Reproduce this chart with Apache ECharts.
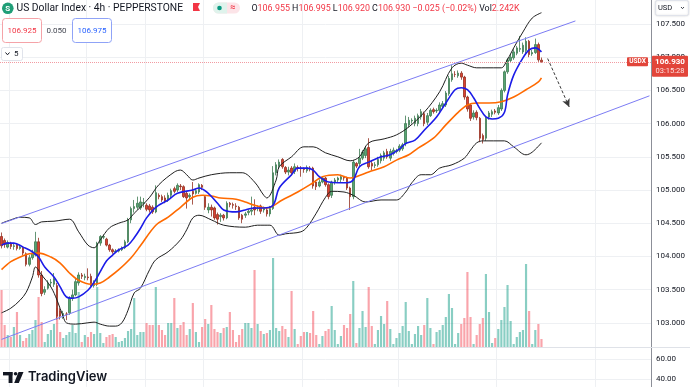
<!DOCTYPE html>
<html><head><meta charset="utf-8">
<script src="https://cdn.jsdelivr.net/npm/echarts@6/dist/echarts.min.js"></script>
<style>html,body{margin:0;padding:0;background:#fff;}#c{width:690px;height:387px;}</style>
</head><body><div id="c"></div>
<script>
// ---- data (4h candles, US Dollar Index) ----
const opens=[104.30,104.24,104.14,104.20,104.15,104.17,104.12,104.13,104.04,103.88,
103.98,104.02,104.22,103.72,103.46,103.52,103.60,103.58,103.56,103.18,
103.10,103.13,103.15,103.37,103.42,103.60,103.72,103.68,103.69,103.70,
103.56,103.58,104.20,104.29,104.26,104.17,104.10,104.07,104.08,104.10,
104.13,104.22,104.55,104.72,104.74,104.73,104.80,104.77,104.76,104.74,
104.67,104.92,104.90,104.88,104.85,104.92,105.02,105.00,105.06,105.05,
104.95,104.90,104.98,104.95,104.97,105.07,104.90,104.70,104.74,104.73,
104.63,104.60,104.62,104.58,104.80,104.78,104.76,104.74,104.62,104.62,
104.66,104.68,104.74,104.72,104.76,104.70,104.70,104.64,104.72,105.26,
105.36,105.46,105.34,105.27,105.33,105.28,105.34,105.33,105.32,105.29,
105.33,105.33,105.12,105.06,105.12,105.18,105.08,104.92,105.12,105.15,
105.16,105.19,105.18,105.03,104.90,105.40,105.40,105.48,105.52,105.64,
105.40,105.37,105.38,105.44,105.48,105.58,105.48,105.55,105.58,105.60,
105.62,105.70,105.98,106.04,106.00,106.00,106.10,106.15,106.02,106.12,
106.21,106.19,106.20,106.26,106.28,106.45,106.66,106.74,106.72,106.76,
106.70,106.40,106.28,106.10,106.17,106.08,105.82,105.78,106.10,106.14,
106.19,106.16,106.22,106.50,106.78,106.95,106.99,107.06,107.12,107.08,
107.10,107.24,107.05,107.07,107.19,106.955];
const highs=[104.36,104.27,104.24,104.22,104.19,104.20,104.17,104.15,104.06,104.02,
104.10,104.37,104.28,103.78,103.55,103.64,103.66,103.75,103.60,103.22,
103.18,103.16,103.40,103.50,103.66,103.76,103.75,103.74,103.82,103.74,
103.64,104.22,104.32,104.33,104.28,104.19,104.12,104.11,104.12,104.15,
104.25,104.58,104.75,104.85,104.90,104.90,104.88,104.80,104.79,104.77,
105.07,104.95,104.93,104.92,104.96,105.02,105.05,105.10,105.09,105.07,
104.97,104.95,105.12,105.02,105.10,105.09,104.92,104.80,104.78,104.75,
104.66,104.65,104.64,104.83,104.82,104.81,104.80,104.76,104.64,104.67,
104.71,104.90,104.86,104.77,104.78,104.75,104.73,104.76,105.36,105.42,
105.46,105.48,105.36,105.35,105.36,105.40,105.37,105.36,105.34,105.37,
105.36,105.35,105.15,105.16,105.21,105.20,105.10,105.14,105.18,105.20,
105.23,105.21,105.20,105.05,105.45,105.42,105.62,105.60,105.66,105.78,
105.44,105.42,105.50,105.55,105.59,105.62,105.62,105.64,105.62,105.69,
105.71,106.12,106.10,106.08,106.12,106.15,106.22,106.18,106.16,106.23,
106.24,106.23,106.32,106.34,106.49,106.72,106.88,106.79,106.80,106.79,
106.72,106.42,106.30,106.20,106.20,106.10,105.85,106.10,106.19,106.21,
106.22,106.28,106.53,106.80,106.99,107.05,107.12,107.17,107.32,107.22,
107.30,107.26,107.11,107.28,107.22,106.995];
const lows=[104.12,104.13,104.12,104.11,104.10,104.09,104.10,104.02,103.85,103.85,
103.95,104.00,103.68,103.40,103.42,103.50,103.55,103.54,103.05,103.05,
103.06,103.04,103.12,103.33,103.40,103.56,103.66,103.64,103.64,103.55,
103.53,103.55,104.16,104.26,104.15,104.07,104.04,104.05,104.06,104.08,
104.11,104.20,104.50,104.66,104.70,104.70,104.74,104.68,104.66,104.64,
104.65,104.86,104.82,104.80,104.82,104.88,104.95,104.97,105.00,104.88,
104.72,104.86,104.78,104.93,104.94,105.00,104.70,104.65,104.60,104.55,
104.48,104.52,104.54,104.56,104.74,104.72,104.70,104.55,104.50,104.58,
104.62,104.62,104.62,104.68,104.64,104.66,104.60,104.60,104.70,105.22,
105.32,105.32,105.24,105.22,105.22,105.24,105.28,105.20,105.26,105.26,
105.28,105.02,105.00,105.04,105.10,105.05,104.86,104.88,105.08,105.12,
105.12,105.14,105.00,104.70,104.86,105.33,105.35,105.45,105.48,105.32,
105.30,105.33,105.35,105.40,105.44,105.47,105.44,105.52,105.55,105.57,
105.59,105.66,105.94,106.00,105.96,105.96,106.06,105.96,105.98,106.10,
106.15,106.16,106.17,106.22,106.25,106.42,106.63,106.70,106.69,106.66,
106.36,106.18,106.04,106.06,106.05,105.72,105.70,105.74,106.06,106.10,
106.14,106.13,106.19,106.47,106.75,106.92,106.96,107.03,107.08,107.05,
107.06,107.00,107.02,107.05,106.93,106.92];
const closes=[104.16,104.18,104.21,104.15,104.16,104.12,104.14,104.05,103.88,103.98,
104.05,104.22,103.72,103.44,103.50,103.60,103.61,103.66,103.10,103.10,
103.14,103.13,103.37,103.42,103.62,103.72,103.70,103.70,103.68,103.57,
103.60,104.20,104.30,104.30,104.17,104.10,104.07,104.08,104.10,104.13,
104.22,104.55,104.72,104.75,104.80,104.82,104.81,104.71,104.70,104.67,
104.96,104.90,104.85,104.83,104.92,104.99,104.98,105.07,105.05,104.90,
104.88,104.92,104.94,104.99,105.08,105.04,104.74,104.74,104.70,104.58,
104.56,104.62,104.58,104.80,104.78,104.77,104.75,104.58,104.56,104.64,
104.68,104.70,104.70,104.73,104.68,104.72,104.64,104.72,105.26,105.38,
105.42,105.35,105.27,105.30,105.26,105.35,105.33,105.32,105.31,105.34,
105.32,105.06,105.05,105.12,105.18,105.08,104.90,105.12,105.15,105.18,
105.20,105.18,105.03,104.90,105.42,105.36,105.48,105.57,105.62,105.35,
105.36,105.38,105.46,105.52,105.56,105.50,105.58,105.60,105.59,105.66,
105.68,106.00,106.05,106.05,106.08,106.12,106.18,106.00,106.12,106.20,
106.18,106.20,106.28,106.30,106.46,106.68,106.75,106.74,106.76,106.70,
106.40,106.22,106.08,106.16,106.09,105.78,105.76,106.08,106.16,106.18,
106.17,106.24,106.50,106.78,106.96,107.00,107.08,107.14,107.13,107.18,
107.24,107.04,107.07,107.19,106.96,106.93];
// volume in thousands
const volumes=[15.96,6.16,3.36,2.80,5.60,9.80,3.36,1.68,2.52,3.64,
4.76,7.56,14.00,7.00,1.40,3.64,4.76,6.44,10.92,4.20,
2.52,3.36,4.20,6.16,3.92,15.40,1.40,3.36,2.80,4.20,
3.64,16.80,3.92,1.12,2.80,3.36,3.64,2.80,1.40,1.68,
2.52,4.48,5.04,13.72,3.36,4.20,4.20,6.72,6.16,6.16,
16.80,6.16,4.76,3.36,6.72,6.72,13.72,5.32,6.16,7.00,
3.36,5.04,12.32,4.20,1.40,5.60,7.84,6.44,11.76,5.04,
4.20,3.92,5.32,5.60,9.80,4.76,1.40,3.36,5.04,6.72,
6.72,5.32,21.56,6.44,4.48,3.64,3.92,4.76,24.92,5.32,
4.48,5.88,5.04,2.80,15.68,5.04,0.84,3.08,4.20,4.20,
3.92,10.08,3.36,0.84,3.08,4.48,5.04,11.48,4.76,0.84,
3.08,6.16,5.32,9.24,18.48,1.12,5.32,10.08,5.60,16.80,
5.88,0.84,4.76,8.68,6.44,12.88,5.04,0.84,2.52,3.92,
5.88,12.60,4.48,0.84,3.64,5.88,3.36,6.16,13.72,5.32,
0.84,4.20,4.76,6.16,8.40,14.84,10.92,0.84,3.92,6.44,
8.12,21.00,8.40,0.84,3.36,6.44,8.12,20.44,9.80,1.12,
2.52,5.04,7.56,11.20,17.36,7.28,0.84,2.80,4.20,4.76,
23.24,10.08,0.84,4.76,6.44,2.242];
// indicator lines: [candle index, price]
const maFast=[[0,104.17],[2,104.20],[4,104.20],[7,104.14],[10,104.07],[12,103.99],[14,103.84],[17,103.69],[19,103.54],[21,103.39],[23,103.37],[25,103.39],[28,103.49],[30,103.61],[32,103.77],[34,103.93],[36,104.02],[38,104.10],[41,104.17],[43,104.28],[45,104.42],[47,104.58],[50,104.74],[54,104.85],[57,104.95],[62,105.00],[64,105.03],[67,104.95],[70,104.80],[72,104.70],[76,104.67],[79,104.70],[82,104.73],[85,104.73],[88,104.77],[90,105.03],[94,105.23],[96,105.33],[99,105.33],[101,105.30],[103,105.20],[106,105.12],[109,105.11],[112,105.11],[114,105.15],[116,105.35],[119,105.42],[123,105.50],[126,105.53],[129,105.62],[131,105.70],[134,105.75],[137,105.90],[141,106.10],[144,106.31],[147,106.51],[149,106.54],[151,106.51],[153,106.39],[155,106.23],[157,106.10],[159,106.07],[161,106.08],[163,106.17],[164,106.43],[166,106.73],[169,106.99],[171,107.11],[173,107.14],[175,107.08]];
const maSlow=[[0,103.80],[3,103.92],[6,103.99],[9,104.04],[12,104.05],[16,103.99],[19,103.90],[22,103.75],[25,103.64],[29,103.58],[32,103.60],[35,103.69],[38,103.80],[42,103.98],[45,104.16],[50,104.47],[54,104.59],[58,104.74],[62,104.89],[65,104.92],[68,104.91],[71,104.88],[76,104.86],[79,104.82],[82,104.77],[86,104.73],[91,104.85],[96,104.97],[100,105.08],[104,105.20],[109,105.23],[113,105.18],[115,105.20],[119,105.27],[124,105.35],[128,105.45],[132,105.53],[135,105.63],[140,105.78],[144,105.98],[148,106.17],[151,106.28],[154,106.31],[158,106.31],[162,106.33],[166,106.40],[170,106.51],[174,106.63],[175,106.69]];
const bbUpper=[[0,104.50],[3,104.55],[6,104.59],[9,104.58],[11,104.48],[13,104.52],[17,104.53],[22,104.56],[25,104.37],[28,104.17],[30,104.13],[32,104.25],[35,104.43],[38,104.50],[41,104.55],[43,104.65],[45,104.74],[48,104.89],[51,105.08],[56,105.27],[58,105.30],[60,105.23],[62,105.15],[64,105.18],[68,105.23],[74,105.26],[78,105.26],[82,105.12],[85,104.92],[86,104.88],[89,105.15],[90,105.35],[94,105.50],[98,105.65],[101,105.65],[105,105.56],[109,105.50],[113,105.44],[116,105.50],[119,105.71],[124,105.77],[128,105.83],[132,105.95],[137,106.17],[142,106.48],[146,106.84],[149,106.91],[151,106.88],[154,106.84],[157,106.84],[162,106.84],[163,106.88],[166,107.14],[169,107.38],[172,107.59],[175,107.67]];
const bbLower=[[0,103.15],[3,103.22],[6,103.34],[8,103.46],[10,103.69],[11,103.84],[13,103.72],[16,103.54],[18,103.34],[20,103.09],[21,103.00],[24,102.98],[28,103.00],[30,103.01],[32,102.98],[35,102.95],[37,102.95],[39,103.00],[41,103.19],[43,103.45],[45,103.52],[48,103.80],[50,103.95],[54,104.07],[58,104.25],[60,104.40],[62,104.58],[64,104.62],[68,104.55],[72,104.47],[79,104.44],[83,104.47],[87,104.47],[90,104.32],[92,104.34],[97,104.37],[99,104.44],[102,104.65],[105,104.89],[107,104.98],[111,104.97],[114,104.92],[118,104.82],[123,104.85],[128,104.85],[131,104.97],[133,105.11],[136,105.23],[139,105.23],[142,105.33],[146,105.38],[150,105.48],[152,105.60],[154,105.71],[156,105.74],[163,105.74],[166,105.65],[170,105.53],[172,105.57],[175,105.71]];
const channelUpper=[[0,104.495],[186,107.546]];
const channelLower=[[0,102.750],[210,106.418]];
const arrowFrom=[177,106.98], arrowTo=[184,106.25];
const dayBreaks=[3,28,47,66,98,129,161,193];
const slots=211;

const UP='#57a672', UP_B='#3d7a52', DN='#dc4132', DN_B='#93301f';
const VUP='rgba(8,153,129,0.48)', VDN='rgba(242,54,69,0.45)';
const GRID='#eef0f3', CLR='rgba(0,0,0,0)';
const FONT='Roboto, "Noto Sans", sans-serif';

const cats=Array.from({length:slots},(_,i)=>String(i));
const candleData=opens.map((o,i)=>[o,closes[i],lows[i],highs[i]]);
const volData=volumes.map((v,i)=>({value:v,itemStyle:{color:closes[i]>=opens[i]?VUP:VDN}}));
// ticks 102.5 ... 107.5 plus the axis max
const priceGridColors=[CLR,GRID,GRID,GRID,GRID,GRID,GRID,GRID,GRID,GRID,GRID,CLR];
// ticks 32,36,...,72 plus the axis max; lines only at 40 and 60
const lowerGridColors=[CLR,CLR,GRID,CLR,CLR,CLR,CLR,GRID,CLR,CLR,CLR,CLR];

const chart=echarts.init(document.getElementById('c'));
const lineS=(data,color,width,z)=>({type:'line',xAxisIndex:0,yAxisIndex:0,data,smooth:0.35,symbol:'none',showSymbol:false,silent:true,lineStyle:{color,width},z});

chart.setOption({
  animation:false,
  backgroundColor:'#ffffff',
  grid:[
    {left:0,right:39,top:0,height:356},
    {left:0,right:39,top:247,height:100},
    {left:0,right:39,top:347,height:39.9}
  ],
  xAxis:[0,1,2].map(g=>({type:'category',gridIndex:g,data:cats,boundaryGap:true,
    axisLine:{show:false},axisTick:{show:false},axisLabel:{show:false},
    splitLine:{show:g!==1,interval:(i)=>dayBreaks.includes(i),lineStyle:{color:GRID,width:1}}})),
  yAxis:[
    {type:'value',gridIndex:0,position:'right',min:102.5,max:107.8614,interval:0.5,
     axisLine:{show:false},axisTick:{show:false},
     axisLabel:{margin:5,fontSize:8,color:'#131722',fontFamily:FONT,
       formatter:v=>(v<102.75||v>107.75||Math.abs(v*2-Math.round(v*2))>1e-6)?'':v.toFixed(3)},
     splitLine:{lineStyle:{color:priceGridColors,width:1}}},
    {type:'value',gridIndex:1,min:0,max:28,show:false},
    {type:'value',gridIndex:2,position:'right',min:32,max:72.5,interval:4,
     axisLine:{show:false},axisTick:{show:false},
     axisLabel:{margin:5,fontSize:8,color:'#131722',fontFamily:FONT,
       formatter:v=>(v===40||v===60)?v.toFixed(2):''},
     splitLine:{lineStyle:{color:lowerGridColors,width:1}}}
  ],
  series:[
    {type:'bar',xAxisIndex:1,yAxisIndex:1,data:volData,barWidth:'70%',z:1,silent:true},
    {type:'candlestick',xAxisIndex:0,yAxisIndex:0,data:candleData,barWidth:2,z:3,silent:true,
     itemStyle:{color:UP,color0:DN,borderColor:UP_B,borderColor0:DN_B,borderWidth:0.8},
     markLine:{silent:true,symbol:'none',animation:false,label:{show:false},
       lineStyle:{color:'#f29ba2',type:'dotted',width:1},
       data:[{yAxis:closes[closes.length-1]}]}},
    lineS(bbUpper,'#1f1f1f',1,4),
    lineS(bbLower,'#1f1f1f',1,4),
    lineS(maSlow,'#ff6a00',1.6,4),
    lineS(maFast,'#1c1ce8',1.6,4),
    {type:'line',xAxisIndex:0,yAxisIndex:0,data:channelUpper,symbol:'none',silent:true,
     lineStyle:{color:'#7c7cf4',width:1},z:5},
    {type:'line',xAxisIndex:0,yAxisIndex:0,data:channelLower,symbol:'none',silent:true,
     lineStyle:{color:'#7c7cf4',width:1},z:5,
     markLine:{silent:true,symbol:['none','arrow'],symbolSize:[6,8],animation:false,
       label:{show:false},lineStyle:{color:'#3a3a3a',type:[3,2],width:1},
       data:[[{coord:arrowFrom},{coord:arrowTo}]]}},
    {type:'line',xAxisIndex:2,yAxisIndex:2,data:[]}
  ]
});

const last=closes.length-1;
const py=chart.convertToPixel({yAxisIndex:0},closes[last]);
const RED='#e2453a';
const T=(text,x,y,font,fill,align,extra)=>Object.assign({type:'text',z:110,style:{text,x,y,font,fill,
  textAlign:align||'left',align:align||'left',textVerticalAlign:'middle',verticalAlign:'middle'}},extra||{});

const graphics=[
  {type:'line',z:100,shape:{x1:651.5,y1:0,x2:651.5,y2:387},style:{stroke:'#8c8f98',lineWidth:1}},
  {type:'line',z:100,shape:{x1:0,y1:347.5,x2:690,y2:347.5},style:{stroke:'#dfe2e8',lineWidth:1}},
  // header
  {type:'circle',z:110,shape:{cx:7.8,cy:8.3,r:5.8},style:{fill:'#1f9e77'}},
  T('S',7.8,8.6,'bold 8px '+FONT,'#ffffff','center'),
  T('US Dollar Index · 4h · PEPPERSTONE',16.5,8.5,'10.3px '+FONT,'#131722'),
  {type:'polygon',z:110,shape:{points:[[193,3],[200,3],[198,7],[200,11],[193,11]]},style:{fill:'#f23645'}},
  {type:'rect',z:110,shape:{x:213,y:2.5,width:27,height:11,r:5.5},style:{fill:'#fce4e8'}},
  {type:'rect',z:111,shape:{x:213,y:2.5,width:14,height:11,r:[5.5,0,0,5.5]},style:{fill:'#dff3ec'}},
  {type:'circle',z:112,shape:{cx:219.5,cy:8,r:2.3},style:{fill:'#089981'}},
  T('≈',232.5,8,'bold 9px '+FONT,'#f23645','center'),
  {type:'text',z:110,style:{x:251.5,y:8.5,textVerticalAlign:'middle',verticalAlign:'middle',font:'8.9px '+FONT,
    text:'{l|O}{v|106.955} {l|H}{v|106.995} {l|L}{v|106.920} {l|C}{v|106.930} {v|−0.025 (−0.02%)} {l|Vol}{v|2.242K}',
    rich:{l:{fill:'#131722',font:'8.9px '+FONT},v:{fill:'#f23645',font:'8.9px '+FONT}}}},
  // value boxes
  {type:'rect',z:110,shape:{x:2.5,y:18.5,width:39,height:24,r:3},style:{fill:'#ffffff',stroke:'#f5a3a8',lineWidth:1}},
  T('106.925',22,30.8,'8px '+FONT,'#f23645','center'),
  T('0.050',56.5,30.8,'8px '+FONT,'#434651','center'),
  {type:'rect',z:110,shape:{x:72.5,y:18.5,width:39,height:24,r:3},style:{fill:'#ffffff',stroke:'#8fa3f7',lineWidth:1}},
  T('106.975',92,30.8,'8px '+FONT,'#2962ff','center'),
  {type:'rect',z:110,shape:{x:1.5,y:47.5,width:21,height:13,r:2},style:{fill:'#ffffff',stroke:'#e0e3eb',lineWidth:1}},
  {type:'polyline',z:111,shape:{points:[[5.5,52.5],[7.5,54.8],[9.5,52.5]]},style:{stroke:'#131722',lineWidth:1,fill:null}},
  T('5',14,54,'8px '+FONT,'#131722'),
  // currency box
  {type:'rect',z:110,shape:{x:655.5,y:0.5,width:33,height:15,r:2},style:{fill:'#ffffff',stroke:'#e0e3eb',lineWidth:1,shadowBlur:2,shadowColor:'rgba(0,0,0,0.15)'}},
  T('USD',658,8.3,'7.5px '+FONT,'#131722'),
  {type:'polyline',z:111,shape:{points:[[681,7],[682.5,8.6],[684,7]]},style:{stroke:'#131722',lineWidth:0.8,fill:null}},
  // last price labels
  {type:'rect',z:110,shape:{x:652,y:py-6,width:36,height:21,r:1},style:{fill:RED}},
  T(closes[last].toFixed(3),670,py,'bold 8px '+FONT,'#ffffff','center'),
  T('03:15:28',670,py+9.3,'7.5px '+FONT,'#fde3e3','center'),
  {type:'rect',z:110,shape:{x:627,y:py-4.5,width:21,height:9,r:1},style:{fill:RED}},
  T('USDX',637.5,py,'bold 6.5px '+FONT,'#ffffff','center'),
  // logo
  {type:'rect',z:110,shape:{x:3,y:372,width:9.5,height:3.4},style:{fill:'#131722'}},
  {type:'rect',z:110,shape:{x:8.6,y:372,width:3.9,height:11},style:{fill:'#131722'}},
  {type:'circle',z:110,shape:{cx:15.6,cy:373.8,r:1.8},style:{fill:'#131722'}},
  {type:'polygon',z:110,shape:{points:[[18.5,372],[23.5,372],[18.8,383],[14.2,383]]},style:{fill:'#131722'}},
  T('TradingView',28,377.5,'600 13px Inter, '+FONT,'#131722')
];
chart.setOption({graphic:graphics});
</script></body></html>
